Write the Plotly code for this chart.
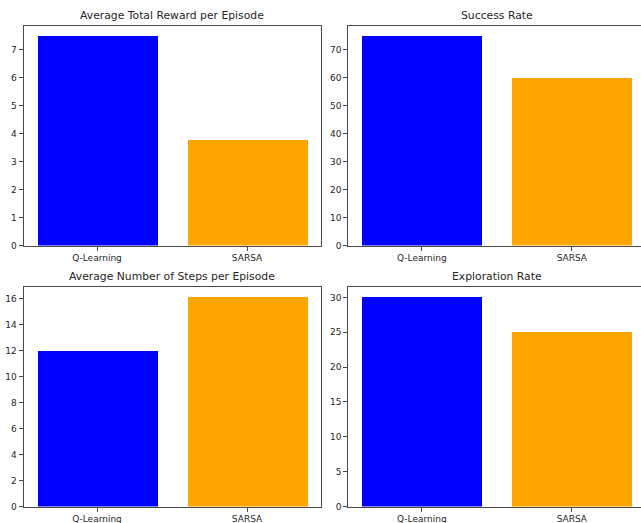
import plotly.graph_objects as go

algorithms = ["Q-Learning", "SARSA"]
avg_reward = [7.5, 3.8]
success_rate = [75, 60]
avg_steps = [12, 16.1]
exploration_rate = [30, 25]
titles = ["Average Total Reward per Episode", "Success Rate",
          "Average Number of Steps per Episode", "Exploration Rate"]
colors = ["blue", "orange"]

W, H = 641, 528          # page is shown slightly squeezed vertically (528 -> 523)
REF_H = 523
k = H / REF_H
series = [avg_reward, success_rate, avg_steps, exploration_rate]
dticks = [1, 10, 2, 5]

# axes boxes in reference-picture pixels (left, right, top, bottom)
boxes = [
    (23.5, 320.5, 25.5, 245.5),
    (348.3, 645.3, 25.5, 245.5),
    (23.5, 320.5, 287.0, 506.5),
    (348.3, 645.3, 287.0, 506.5),
]

fig = go.Figure()
font = dict(family="DejaVu Sans", size=9, color="#262626")
line_col = "#4a4a4a"
annotations = []
xpos = [0, 1]
for i, (vals, title, dt, box) in enumerate(zip(series, titles, dticks, boxes)):
    n = "" if i == 0 else str(i + 1)
    l, r, t, b = box
    t, b = t * k, b * k
    xr = [-0.49, 1.49]
    vis_r = min(r, W)
    xmax = xr[0] + (vis_r - l) / (r - l) * (xr[1] - xr[0])
    fig.add_trace(go.Bar(x=xpos, y=vals, width=0.8, marker=dict(color=colors, line=dict(width=0)),
                         xaxis="x" + n, yaxis="y" + n, showlegend=False))
    full_right = r <= W
    fig.layout["xaxis" + n] = dict(
        domain=[l / W, vis_r / W], range=[xr[0], xmax], anchor="y" + n,
        tickvals=xpos, ticktext=algorithms, ticks="outside", ticklen=4, tickcolor=line_col,
        showline=True, linecolor=line_col, linewidth=1, mirror=True, showgrid=False,
        zeroline=False, tickfont=font, fixedrange=True)
    ymax = max(vals) * 1.05
    fig.layout["yaxis" + n] = dict(
        domain=[(H - b) / H, (H - t) / H], range=[0, ymax], anchor="x" + n,
        dtick=dt, tick0=0, ticks="outside", ticklen=4, tickcolor=line_col,
        showline=True, linecolor=line_col, linewidth=1, mirror=full_right, showgrid=False,
        zeroline=False, tickfont=font, fixedrange=True)
    annotations.append(dict(text=title, x=((l + r) / 2) / W, y=(H - (t - 10 * k)) / H,
                            xref="paper", yref="paper", xanchor="center", yanchor="middle",
                            showarrow=False, font=dict(family="DejaVu Sans", size=10.8, color="#262626")))

fig.update_layout(width=W, height=H, margin=dict(l=0, r=0, t=0, b=0),
                  plot_bgcolor="white", paper_bgcolor="white", annotations=annotations,
                  bargap=0)
fig.write_html("out.html", config={"displayModeBar": False},
               post_script="document.body.style.margin='0';document.body.style.overflow='hidden';")
